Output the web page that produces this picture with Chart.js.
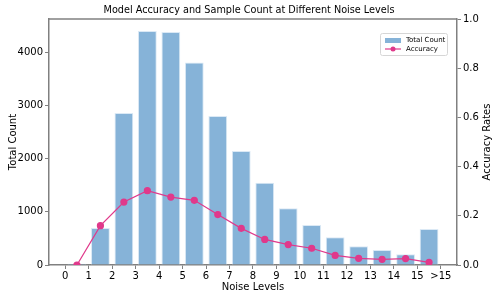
<!DOCTYPE html>
<html>
<head>
<meta charset="utf-8">
<script src="https://cdn.jsdelivr.net/npm/chart.js@4/dist/chart.umd.min.js"></script>
<style>
  html, body { margin: 0; padding: 0; background: #fff; }
  #wrap { width: 498px; height: 299px; }
</style>
</head>
<body>
<div id="wrap"><canvas id="chart" width="498" height="299"></canvas></div>
<script>
// bin centres and values
const binCenters = [0.5, 1.5, 2.5, 3.5, 4.5, 5.5, 6.5, 7.5, 8.5, 9.5, 10.5, 11.5, 12.5, 13.5, 14.5, 15.5];
const totalCount = [25, 695, 2854, 4394, 4375, 3806, 2798, 2141, 1546, 1064, 751, 520, 351, 282, 200, 676];
const accuracy = [0.0, 0.16, 0.256, 0.302, 0.276, 0.263, 0.205, 0.149, 0.104, 0.083, 0.068, 0.039, 0.027, 0.023, 0.026, 0.011];
const xTickLabels = ["0", "1", "2", "3", "4", "5", "6", "7", "8", "9", "10", "11", "12", "13", "14", "15", ">15"];
const countTicks = [0, 1000, 2000, 3000, 4000];
const rateTicks = [0, 0.2, 0.4, 0.6, 0.8, 1.0];

const FONT = "'DejaVu Sans', sans-serif";
const SPINE = "#808080";
const BAR_COLOR = "#86b3d8";
const LINE_COLOR = "#e0398b";

Chart.defaults.font.family = FONT;
Chart.defaults.color = "#000";

// top spine, right-axis title and legend box
const extras = {
  id: "extras",
  afterDraw(chart) {
    const ctx = chart.ctx;
    const a = chart.chartArea;
    ctx.save();
    ctx.strokeStyle = SPINE;
    ctx.lineWidth = 1.5;
    ctx.beginPath();
    ctx.moveTo(a.left, a.top);
    ctx.lineTo(a.right, a.top);
    ctx.stroke();

    ctx.fillStyle = "#000";
    ctx.font = "10px " + FONT;
    ctx.textAlign = "center";
    ctx.textBaseline = "middle";
    ctx.translate(487, (a.top + a.bottom) / 2);
    ctx.rotate(-Math.PI / 2);
    ctx.fillText("Accuracy Rates", 0, 0);
    ctx.restore();

    // legend
    ctx.save();
    const lx = 380, ly = 33, lw = 67, lh = 22;
    ctx.fillStyle = "rgba(255,255,255,0.85)";
    ctx.strokeStyle = "#d6d6d6";
    ctx.lineWidth = 1;
    ctx.beginPath();
    ctx.roundRect(lx + 0.5, ly + 0.5, lw, lh, 2);
    ctx.fill();
    ctx.stroke();
    ctx.fillStyle = BAR_COLOR;
    ctx.fillRect(lx + 5, ly + 5, 16, 5);
    ctx.strokeStyle = LINE_COLOR;
    ctx.lineWidth = 1.2;
    ctx.beginPath();
    ctx.moveTo(lx + 5, ly + 16);
    ctx.lineTo(lx + 21, ly + 16);
    ctx.stroke();
    ctx.fillStyle = LINE_COLOR;
    ctx.beginPath();
    ctx.arc(lx + 13, ly + 16, 2.5, 0, Math.PI * 2);
    ctx.fill();
    ctx.fillStyle = "#000";
    ctx.font = "7px " + FONT;
    ctx.textAlign = "left";
    ctx.textBaseline = "middle";
    ctx.fillText("Total Count", lx + 26, ly + 7.5);
    ctx.fillText("Accuracy", lx + 26, ly + 16);
    ctx.restore();
  }
};

new Chart(document.getElementById("chart"), {
  type: "bar",
  data: {
    datasets: [
      {
        type: "line",
        label: "Accuracy",
        data: binCenters.map((x, i) => ({ x: x, y: accuracy[i] })),
        yAxisID: "y1",
        borderColor: LINE_COLOR,
        backgroundColor: LINE_COLOR,
        borderWidth: 1.2,
        pointRadius: 3,
        pointHoverRadius: 3,
        tension: 0,
        order: 0
      },
      {
        label: "Total Count",
        data: binCenters.map((x, i) => ({ x: x, y: totalCount[i] })),
        yAxisID: "y",
        backgroundColor: BAR_COLOR,
        borderColor: "#dbe9f5",
        borderWidth: 1,
        barPercentage: 0.8,
        categoryPercentage: 1.0,
        order: 1
      }
    ]
  },
  options: {
    responsive: false,
    animation: false,
    events: [],
    layout: { padding: 0 },
    plugins: {
      legend: { display: false },
      tooltip: { enabled: false },
      title: {
        display: true,
        text: "Model Accuracy and Sample Count at Different Noise Levels",
        font: { size: 9.7, weight: "normal" },
        color: "#000",
        padding: { top: 5, bottom: 2.4 }
      }
    },
    scales: {
      x: {
        type: "linear",
        min: -0.69,
        max: 16.69,
        offset: false,
        afterBuildTicks: s => { s.ticks = xTickLabels.map((_, i) => ({ value: i })); },
        afterFit: s => { s.height = 34; },
        ticks: {
          autoSkip: false,
          maxRotation: 0,
          padding: 1,
          font: { size: 10 },
          callback: v => xTickLabels[v]
        },
        grid: { offset: false, drawOnChartArea: false, drawTicks: true, tickLength: 4, color: SPINE },
        border: { display: true, color: SPINE, width: 1.5 },
        title: { display: true, text: "Noise Levels", font: { size: 10 }, padding: { top: 0, bottom: 6 } }
      },
      y: {
        position: "left",
        min: 0,
        max: 4620,
        afterBuildTicks: s => { s.ticks = countTicks.map(v => ({ value: v })); },
        afterFit: s => { s.width = 49; },
        ticks: { padding: 2, font: { size: 10 }, callback: v => String(v) },
        grid: { drawOnChartArea: false, drawTicks: true, tickLength: 4, color: SPINE },
        border: { display: true, color: SPINE, width: 1.5 },
        title: { display: true, text: "Total Count", font: { size: 10 }, padding: { top: 7, bottom: 0 } }
      },
      y1: {
        position: "right",
        min: 0,
        max: 1.0,
        afterBuildTicks: s => { s.ticks = rateTicks.map(v => ({ value: v })); },
        afterFit: s => { s.width = 41; },
        ticks: { padding: 2, font: { size: 10 }, callback: v => v.toFixed(1) },
        grid: { drawOnChartArea: false, drawTicks: true, tickLength: 4, color: SPINE },
        border: { display: true, color: SPINE, width: 1.5 }
      }
    }
  },
  plugins: [extras]
});
</script>
</body>
</html>
